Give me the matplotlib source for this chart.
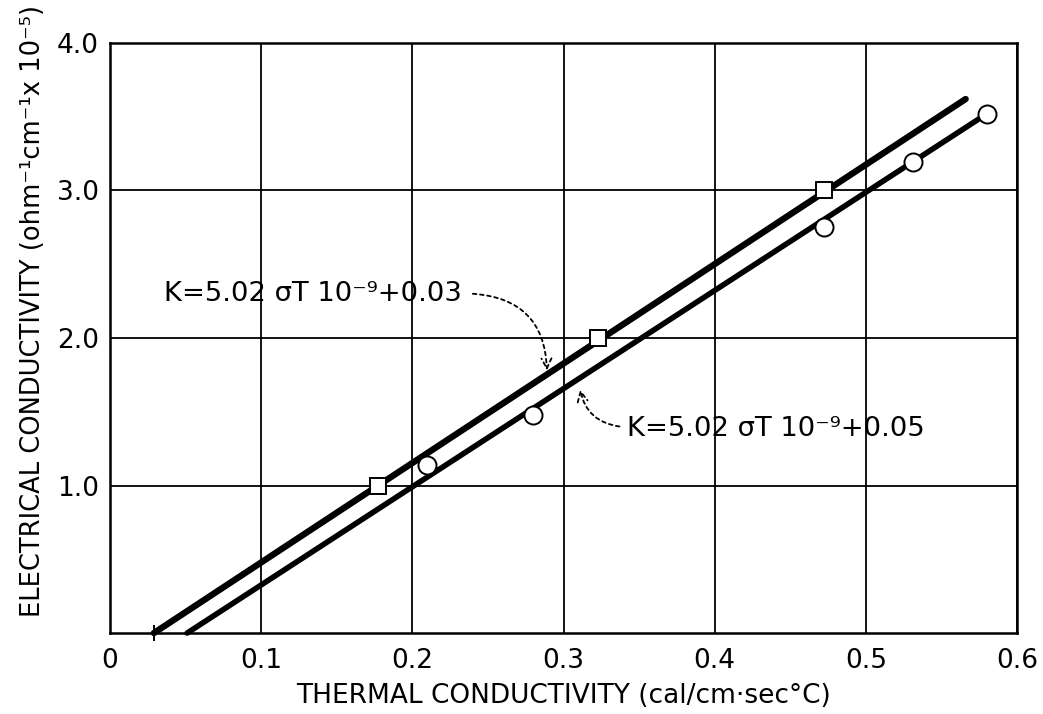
import matplotlib
matplotlib.use("Agg")
import matplotlib.pyplot as plt

# ---- data ----
square_x = [0.177, 0.323, 0.472]
square_y = [1.0, 2.0, 3.0]
circle_x = [0.210, 0.280, 0.472, 0.531, 0.580]
circle_y = [1.14, 1.48, 2.75, 3.19, 3.52]
upper_line_x = [0.029, 0.566]
upper_line_y = [0.0, 3.62]
lower_line_x = [0.051, 0.580]
lower_line_y = [0.0, 3.52]

x_ticks = [0, 0.1, 0.2, 0.3, 0.4, 0.5, 0.6]
x_ticklabels = ["0", "0.1", "0.2", "0.3", "0.4", "0.5", "0.6"]
y_ticks = [1.0, 2.0, 3.0, 4.0]
y_ticklabels = ["1.0", "2.0", "3.0", "4.0"]

label_upper = "K=5.02 \u03c3T 10\u207b\u2079+0.03"
label_lower = "K=5.02 \u03c3T 10\u207b\u2079+0.05"
upper_text_pos = (0.036, 2.30)
upper_arrow_start = (0.240, 2.30)
upper_arrow_tip = (0.289, 1.78)
lower_text_pos = (0.342, 1.385)
lower_arrow_start = (0.337, 1.40)
lower_arrow_tip = (0.311, 1.65)

plt.rcParams['font.family'] = ['DejaVu Sans']

fig = plt.figure(figsize=(10.43, 7.14), dpi=100)
ax = fig.add_axes([0.1055, 0.1134, 0.8696, 0.8264])

ax.set_xlim(0, 0.6)
ax.set_ylim(0, 4.0)
ax.set_xticks(x_ticks)
ax.set_xticklabels(x_ticklabels)
ax.set_yticks(y_ticks)
ax.set_yticklabels(y_ticklabels)
ax.tick_params(axis='both', length=0, labelsize=19)
ax.tick_params(axis='x', pad=11)
ax.tick_params(axis='y', pad=8)
ax.grid(True, color='black', linewidth=1.3)
ax.set_axisbelow(True)
for s in ax.spines.values():
    s.set_linewidth(1.8)
    s.set_color('black')

ax.plot(upper_line_x, upper_line_y, color='black', linewidth=4.6,
        solid_capstyle='round', zorder=3, clip_on=False)
ax.plot(lower_line_x, lower_line_y, color='black', linewidth=4.0,
        solid_capstyle='round', zorder=3, clip_on=False)

ax.plot(square_x, square_y, linestyle='none', marker='s', markersize=11,
        markerfacecolor='white', markeredgecolor='black', markeredgewidth=1.4,
        zorder=4)
ax.plot(circle_x, circle_y, linestyle='none', marker='o', markersize=13,
        markerfacecolor='white', markeredgecolor='black', markeredgewidth=1.4,
        zorder=4)
# small tick mark at the start of the upper line
ax.plot([upper_line_x[0]], [upper_line_y[0]], marker='|', markersize=12,
        color='black', markeredgewidth=1.4, clip_on=False, zorder=4)

ax.text(upper_text_pos[0], upper_text_pos[1], label_upper, fontsize=19.7,
        ha='left', va='center', zorder=5)
ax.text(lower_text_pos[0], lower_text_pos[1], label_lower, fontsize=19.7,
        ha='left', va='center', zorder=5)

ax.annotate('', xy=upper_arrow_tip, xytext=upper_arrow_start,
            arrowprops=dict(arrowstyle='->', linestyle=(0, (2, 2)), color='black',
                            linewidth=1.3, connectionstyle='arc3,rad=-0.45',
                            shrinkA=0, shrinkB=0, mutation_scale=18), zorder=5)
ax.annotate('', xy=lower_arrow_tip, xytext=lower_arrow_start,
            arrowprops=dict(arrowstyle='->', linestyle=(0, (2, 2)), color='black',
                            linewidth=1.3, connectionstyle='arc3,rad=-0.35',
                            shrinkA=0, shrinkB=0, mutation_scale=18), zorder=5)

ax.set_xlabel("THERMAL CONDUCTIVITY (cal/cm\u00b7sec\u00b0C)", fontsize=19, labelpad=6)
ax.set_ylabel("ELECTRICAL CONDUCTIVITY (ohm\u207b\u00b9cm\u207b\u00b9x 10\u207b\u2075)",
              fontsize=18.5)
ax.yaxis.set_label_coords(-0.071, 0.545)

fig.savefig("out.png", dpi=100)
